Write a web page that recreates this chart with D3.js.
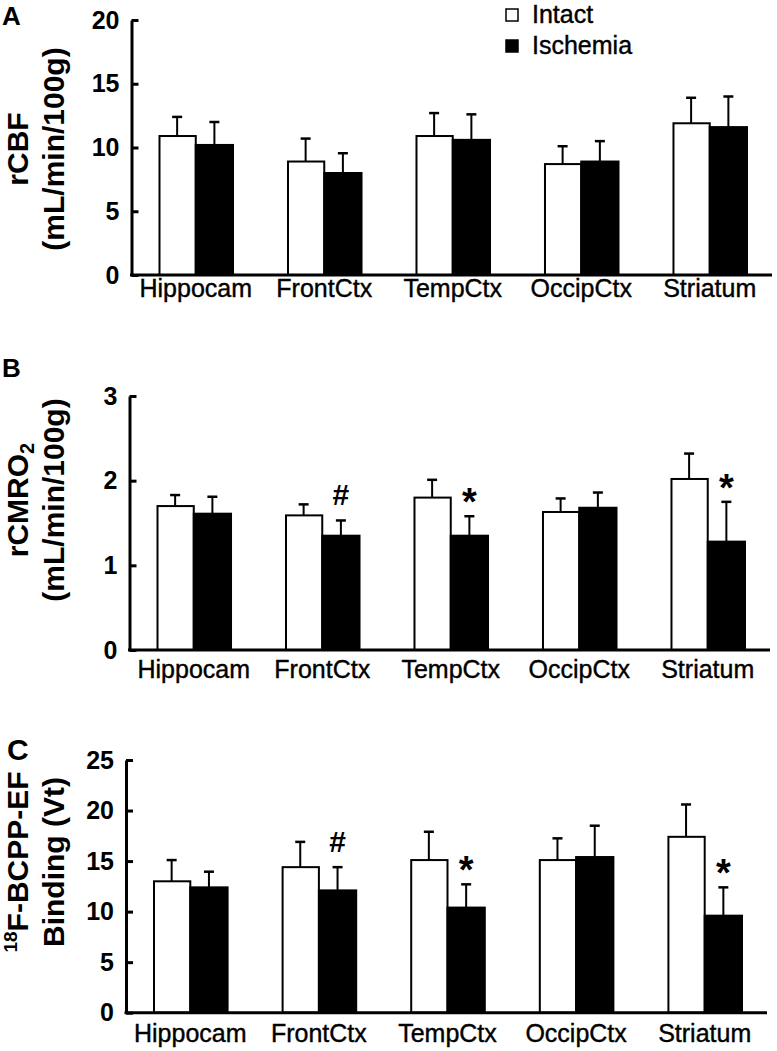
<!DOCTYPE html>
<html>
<head>
<meta charset="utf-8">
<script src="https://cdn.jsdelivr.net/npm/d3@7"></script>
<style>
  body { margin: 0; background: white; }
  text { font-family: "Liberation Sans", Arial, sans-serif; fill: black; }
</style>
</head>
<body>
<script>
const regions = ['Hippocam', 'FrontCtx', 'TempCtx', 'OccipCtx', 'Striatum']
const groups = ['Intact', 'Ischemia']

const cbfIntact = [10.9, 8.9, 10.9, 8.7, 11.9]
const cbfIntactErr = [1.5, 1.8, 1.8, 1.4, 2.0]
const cbfIsch = [10.2, 8.0, 10.6, 8.9, 11.6]
const cbfIschErr = [1.8, 1.55, 2.0, 1.6, 2.4]
const cbfMarks = ['', '', '', '', '']
const cbfTicks = [0, 5, 10, 15, 20]

const cmroIntact = [1.70, 1.59, 1.80, 1.63, 2.02]
const cmroIntactErr = [0.13, 0.13, 0.21, 0.16, 0.30]
const cmroIsch = [1.61, 1.35, 1.35, 1.68, 1.28]
const cmroIschErr = [0.20, 0.18, 0.23, 0.18, 0.47]
const cmroMarks = ['', '#', '*', '', '*']
const cmroTicks = [0, 1, 2, 3]

const bcppIntact = [13.0, 14.4, 15.1, 15.1, 17.4]
const bcppIntactErr = [2.1, 2.5, 2.8, 2.15, 3.2]
const bcppIsch = [12.4, 12.1, 10.4, 15.4, 9.6]
const bcppIschErr = [1.55, 2.3, 2.3, 3.1, 2.8]
const bcppMarks = ['', '#', '*', '', '*']
const bcppTicks = [0, 5, 10, 15, 20, 25]

const width = 777
const height = 1051
const fillColor = {Intact: 'white', Ischemia: 'black'}

const panels = [
    {
        letter: 'A', letterY: 25,
        x0: 131.5, x1: 772, yTop: 20, yBot: 275, labelDy: 22, titleY: 149,
        ticks: cbfTicks, intact: cbfIntact, intactErr: cbfIntactErr,
        isch: cbfIsch, ischErr: cbfIschErr, marks: cbfMarks,
        title: [[{t: 'rCBF'}], [{t: '(mL/min/100g)'}]]
    },
    {
        letter: 'B', letterY: 377,
        x0: 129.5, x1: 770, yTop: 396, yBot: 650, labelDy: 28, titleY: 500,
        ticks: cmroTicks, intact: cmroIntact, intactErr: cmroIntactErr,
        isch: cmroIsch, ischErr: cmroIschErr, marks: cmroMarks,
        title: [[{t: 'rCMRO'}, {t: '2', size: 20, dy: 6}], [{t: '(mL/min/100g)'}]]
    },
    {
        letter: 'C', letterY: 760,
        x0: 126, x1: 767, yTop: 760, yBot: 1012.7, labelDy: 29, titleY: 862,
        ticks: bcppTicks, intact: bcppIntact, intactErr: bcppIntactErr,
        isch: bcppIsch, ischErr: bcppIschErr, marks: bcppMarks,
        title: [[{t: '18', size: 19, dy: -11}, {t: 'F-BCPP-EF', dy: 11}], [{t: 'Binding (Vt)'}]]
    }
]

const svg = d3.select('body')
    .append('svg')
    .attr('width', width)
    .attr('height', height)

panels.forEach(p => {
    const g = svg.append('g')

    const x = d3.scaleBand()
        .domain(regions)
        .range([p.x0 + 27, p.x1 - 25])
        .paddingInner(0.42)
        .paddingOuter(0)
    const xs = d3.scaleBand()
        .domain(groups)
        .range([0, x.bandwidth()])
    const y = d3.scaleLinear()
        .domain([0, d3.max(p.ticks)])
        .range([p.yBot, p.yTop])

    const rows = []
    regions.forEach((r, i) => {
        rows.push({region: r, group: 'Intact', value: p.intact[i], err: p.intactErr[i], mark: ''})
        rows.push({region: r, group: 'Ischemia', value: p.isch[i], err: p.ischErr[i], mark: p.marks[i]})
    })

    // bars
    g.selectAll('rect.bar')
        .data(rows)
        .enter()
        .append('rect')
        .attr('class', 'bar')
        .attr('x', d => x(d.region) + xs(d.group) + (d.group == 'Intact' ? 1 : 0))
        .attr('y', d => y(d.value))
        .attr('width', d => xs.bandwidth() - (d.group == 'Intact' ? 1 : 0))
        .attr('height', d => y(0) - y(d.value))
        .attr('fill', d => fillColor[d.group])
        .attr('stroke', 'black')
        .attr('stroke-width', 2)

    // error bars (upper only)
    const cx = d => x(d.region) + xs(d.group) + xs.bandwidth() / 2
    g.selectAll('line.err')
        .data(rows)
        .enter()
        .append('line')
        .attr('x1', cx)
        .attr('x2', cx)
        .attr('y1', d => y(d.value))
        .attr('y2', d => y(d.value + d.err))
        .attr('stroke', 'black')
        .attr('stroke-width', 2)
    g.selectAll('line.cap')
        .data(rows)
        .enter()
        .append('line')
        .attr('x1', d => cx(d) - 5)
        .attr('x2', d => cx(d) + 5)
        .attr('y1', d => y(d.value + d.err))
        .attr('y2', d => y(d.value + d.err))
        .attr('stroke', 'black')
        .attr('stroke-width', 2.5)

    // significance marks
    g.selectAll('text.mark')
        .data(rows.filter(d => d.mark))
        .enter()
        .append('text')
        .attr('x', cx)
        .attr('y', d => y(d.value + d.err) - (d.mark == '#' ? 15 : 1))
        .attr('text-anchor', 'middle')
        .attr('font-size', d => d.mark == '#' ? 30 : 38)
        .attr('font-weight', 'bold')
        .text(d => d.mark)

    // y axis
    const yAxis = g.append('g')
        .attr('transform', `translate(${p.x0},0)`)
        .call(d3.axisLeft(y).tickValues(p.ticks).tickFormat(d3.format('d'))
            .tickSize(-7).tickSizeOuter(0).tickPadding(12))
    yAxis.select('.domain').attr('stroke-width', 3)
    yAxis.selectAll('.tick line').attr('stroke-width', 3)
    yAxis.selectAll('.tick text')
        .attr('font-size', 25)
        .attr('font-weight', 'bold')
        .attr('font-family', '"Liberation Sans", Arial, sans-serif')

    // x axis
    g.append('line')
        .attr('x1', p.x0 - 1.5)
        .attr('x2', p.x1)
        .attr('y1', y(0))
        .attr('y2', y(0))
        .attr('stroke', 'black')
        .attr('stroke-width', 3)
    g.selectAll('text.cat')
        .data(regions)
        .enter()
        .append('text')
        .attr('x', d => x(d) + x.bandwidth() / 2)
        .attr('y', y(0) + p.labelDy)
        .attr('text-anchor', 'middle')
        .attr('font-size', 25)
        .attr('stroke', 'black')
        .attr('stroke-width', 0.4)
        .text(d => d)

    // y title
    p.title.forEach((line, li) => {
        const t = g.append('text')
            .attr('transform', `translate(${li == 0 ? 28 : 64},${p.titleY}) rotate(-90)`)
            .attr('text-anchor', 'middle')
            .attr('font-size', 30)
            .attr('font-weight', 'bold')
        line.forEach(part => {
            t.append('tspan')
                .attr('font-size', part.size || 30)
                .attr('dy', part.dy || 0)
                .text(part.t)
        })
    })

    // panel letter
    g.append('text')
        .attr('x', p.letter == 'C' ? 7 : 2)
        .attr('y', p.letterY)
        .attr('font-size', p.letter == 'C' ? 30 : 26)
        .attr('font-weight', 'bold')
        .text(p.letter)
})

// legend
const legend = svg.append('g')
    .selectAll('g')
    .data(groups)
    .enter()
    .append('g')
    .attr('transform', (d, i) => `translate(506,${9 + i * 31})`)
legend.append('rect')
    .attr('width', 12)
    .attr('height', 12)
    .attr('fill', d => fillColor[d])
    .attr('stroke', 'black')
    .attr('stroke-width', 1.5)
legend.append('text')
    .attr('x', 26)
    .attr('y', 14)
    .attr('font-size', 25)
    .attr('stroke', 'black')
    .attr('stroke-width', 0.4)
    .text(d => d)
</script>
</body>
</html>
